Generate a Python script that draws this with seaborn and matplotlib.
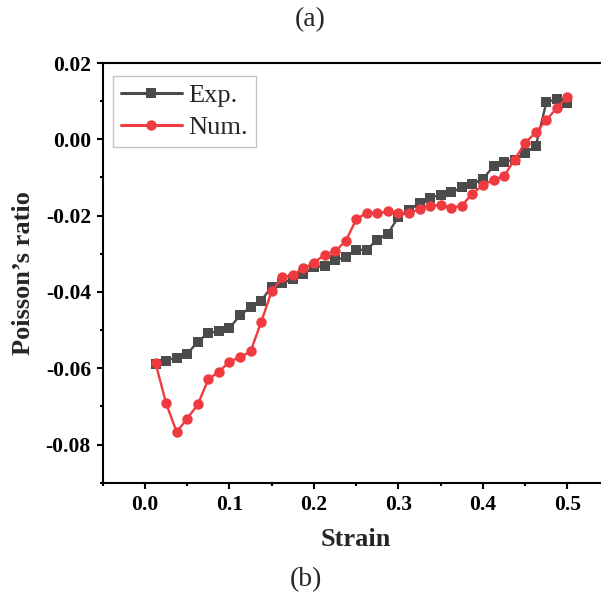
import numpy as np
import pandas as pd
import matplotlib
matplotlib.use("Agg")
import matplotlib.pyplot as plt
from matplotlib.ticker import MultipleLocator, FormatStrFormatter
import seaborn as sns

# Strain steps (0.0125 increments)
strain = [round(0.0125 * k, 4) for k in range(1, 41)]

exp_ratio = [-0.0589, -0.0580, -0.0572, -0.0563, -0.0530, -0.0508, -0.0503, -0.0495,
             -0.0461, -0.0440, -0.0423, -0.0386, -0.0376, -0.0367, -0.0353, -0.0335,
             -0.0332, -0.0316, -0.0309, -0.0290, -0.0289, -0.0263, -0.0247, -0.0203,
             -0.0186, -0.0166, -0.0153, -0.0145, -0.0139, -0.0126, -0.0118, -0.0103,
             -0.0071, -0.0059, -0.0053, -0.0035, -0.0018, 0.0097, 0.0106, 0.0096]

num_ratio = [-0.0586, -0.0692, -0.0767, -0.0732, -0.0695, -0.0629, -0.0609, -0.0583,
             -0.0571, -0.0556, -0.0479, -0.0398, -0.0362, -0.0356, -0.0338, -0.0324,
             -0.0302, -0.0293, -0.0267, -0.0210, -0.0192, -0.0194, -0.0189, -0.0192,
             -0.0194, -0.0183, -0.0174, -0.0172, -0.0179, -0.0174, -0.0142, -0.0120,
             -0.0106, -0.0096, -0.0053, -0.0009, 0.0018, 0.0051, 0.0082, 0.0111]

series_names = ["Exp.", "Num."]

df = pd.DataFrame({
    "Strain": strain * 2,
    "Poisson": exp_ratio + num_ratio,
    "Series": [series_names[0]] * len(strain) + [series_names[1]] * len(strain),
})

sns.set_style("ticks")
plt.rcParams["font.family"] = ["Liberation Serif", "DejaVu Serif"]
plt.rcParams["mathtext.fontset"] = "stix"

fig = plt.figure(figsize=(6.01, 5.98), dpi=100)
ax = fig.add_axes([0.1709, 0.1928, 0.8436, 0.7018])

palette = {"Exp.": "#4b4b4b", "Num.": "#ef3a3f"}
markers = {"Exp.": "s", "Num.": "o"}

for name in series_names:
    sub = df[df["Series"] == name]
    sns.lineplot(data=sub, x="Strain", y="Poisson", ax=ax, color=palette[name],
                 marker=markers[name], markersize=7.5, markeredgewidth=0,
                 linewidth=1.7, label=name, sort=False, estimator=None)

ax.set_xlim(-0.05, 0.55)
ax.set_ylim(-0.09, 0.02)
ax.xaxis.set_major_locator(MultipleLocator(0.1))
ax.xaxis.set_minor_locator(MultipleLocator(0.05))
ax.yaxis.set_major_locator(MultipleLocator(0.02))
ax.yaxis.set_minor_locator(MultipleLocator(0.01))
ax.xaxis.set_major_formatter(FormatStrFormatter("%.1f"))
ax.yaxis.set_major_formatter(FormatStrFormatter("%.2f"))

for side in ["left", "bottom", "top", "right"]:
    ax.spines[side].set_visible(True)
    ax.spines[side].set_linewidth(1.5)
    ax.spines[side].set_color("black")

ax.tick_params(which="major", direction="out", length=4.5, width=1.5,
               labelsize=15.5, pad=4, colors="black")
ax.tick_params(which="minor", direction="out", length=2.5, width=1.5, colors="black")
for lbl in ax.get_xticklabels() + ax.get_yticklabels():
    lbl.set_fontweight("bold")

ax.set_xlabel("Strain", fontsize=19, fontweight="bold", labelpad=10)
ax.set_ylabel("Poisson\u2019s ratio", fontsize=19, fontweight="bold", labelpad=8)

leg = ax.legend(loc="upper left", bbox_to_anchor=(0.0203, 0.969), borderaxespad=0,
                frameon=True, fancybox=False, fontsize=19, handlelength=2.3,
                handletextpad=0.25, labelspacing=0.32, borderpad=0.3)
leg.get_frame().set_edgecolor("#b4b4b4")
leg.get_frame().set_linewidth(1.0)
for line in leg.get_lines():
    line.set_linewidth(2.2)

fig.text(310 / 601, 1 - 20 / 598, "(a)", fontsize=20, ha="center", va="center")
fig.text(306 / 601, 1 - 580 / 598, "(b)", fontsize=20, ha="center", va="center")

fig.savefig("out.png", dpi=100, facecolor="white")
